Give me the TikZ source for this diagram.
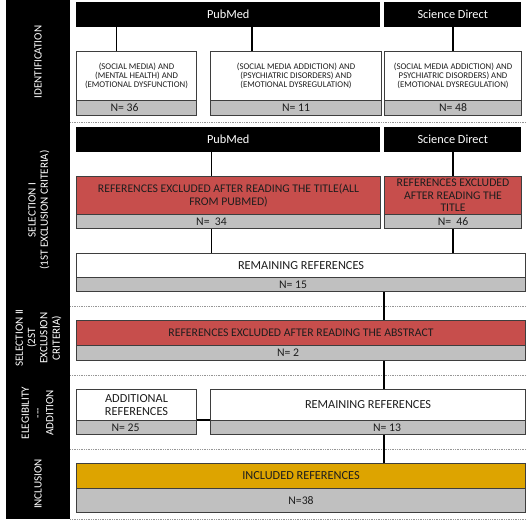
\documentclass[tikz,border=0pt]{standalone}
\usepackage{fontspec}
\setmainfont{Carlito}
\usepackage{xcolor}
\usepackage{tikz}
\usetikzlibrary{positioning}
\definecolor{exclred}{RGB}{199,78,76}
\definecolor{inclgold}{RGB}{221,164,0}
\definecolor{countgray}{RGB}{192,192,192}
\definecolor{frameline}{RGB}{62,62,62}
\definecolor{dotgray}{RGB}{150,150,150}
\definecolor{inktext}{RGB}{30,30,30}
\newlength\pxu
\setlength\pxu{0.3mm}

\tikzset{
  dbhead/.style={fill=black, text=white, anchor=north west, inner sep=0pt, font=\fontsize{10.5}{12}\selectfont},
  querybox/.style={draw=frameline, line width=0.9pt, fill=white, text=inktext, anchor=north west, inner sep=0pt, align=center, font=\fontsize{7.5}{7.6}\selectfont},
  exclbox/.style={querybox, fill=exclred, font=\fontsize{10}{10.6}\selectfont},
  remainbox/.style={querybox, font=\fontsize{10.5}{10.5}\selectfont},
  inclbox/.style={querybox, fill=inclgold, font=\fontsize{10.5}{11.5}\selectfont},
  countbar/.style={querybox, fill=countgray, font=\fontsize{10}{11}\selectfont},
  stagelabel/.style={text=white, rotate=90, align=center, font=\fontsize{9.5}{10.5}\selectfont},
  link/.style={line width=1.1pt},
  phasesep/.style={dotgray, densely dotted, line width=0.5pt}
}

\begin{document}
\begin{tikzpicture}[x=0.3mm, y=-0.3mm]
\useasboundingbox (0,0) rectangle (527,524);

% stage column
\fill[black] (6,0) rectangle (70,519);
\node[stagelabel] (stIdent) at (38,62) {IDENTIFICATION};
\node[stagelabel] (stSelA) at (39,210) {SELECTION I\\(1ST EXCLUSION CRITERIA)};
\node[stagelabel] (stSelB) at (38.5,338) {SELECTION II\\(2ST\\EXCLUSION\\CRITERIA)};
\node[stagelabel] (stElig) at (37.5,413) {ELEGIBILITY\\{-}{-}{-}\\ADDITION};
\node[stagelabel] (stIncl) at (38,484) {INCLUSION};

\foreach \sy in {122,306,375,449,519}
  \draw[phasesep] (70,\sy) -- (527,\sy);

% identification
\node[dbhead, minimum width=304*\pxu, minimum height=25*\pxu] (pubmedA) at (76,2) {PubMed};
\node[dbhead, minimum width=137*\pxu, minimum height=25*\pxu] (scidirA) at (384,2) {Science Direct};
\node[querybox, minimum width=120*\pxu, minimum height=49*\pxu] (queryA) at (76,51) {(SOCIAL MEDIA) AND\\(MENTAL HEALTH) AND\\(EMOTIONAL DYSFUNCTION)};
\node[countbar, minimum width=120*\pxu, minimum height=15*\pxu] (countA) at (76,100) {\hspace*{-24\pxu}N= 36};
\node[querybox, minimum width=171*\pxu, minimum height=49*\pxu] (queryB) at (210,51) {(SOCIAL MEDIA ADDICTION) AND\\(PSYCHIATRIC DISORDERS) AND\\(EMOTIONAL DYSREGULATION)};
\node[countbar, minimum width=171*\pxu, minimum height=15*\pxu] (countB) at (210,100) {N= 11};
\node[querybox, minimum width=137*\pxu, minimum height=49*\pxu] (queryC) at (384,51) {(SOCIAL MEDIA ADDICTION) AND\\PSYCHIATRIC DISORDERS) AND\\(EMOTIONAL DYSREGULATION)};
\node[countbar, minimum width=137*\pxu, minimum height=15*\pxu] (countC) at (384,100) {N= 48};

\draw[link] ([xshift=-20*\pxu]queryA.north) -- ([xshift=-20*\pxu]queryA.north |- pubmedA.south);
\draw[link] ([xshift=-44*\pxu]queryB.north) -- ([xshift=-44*\pxu]queryB.north |- pubmedA.south);
\draw[link] (queryC.north) -- (queryC.north |- scidirA.south);

% selection I
\node[dbhead, minimum width=304*\pxu, minimum height=25*\pxu] (pubmedB) at (76,127) {PubMed};
\node[dbhead, minimum width=137*\pxu, minimum height=25*\pxu] (scidirB) at (384,127) {Science Direct};
\node[exclbox, minimum width=304*\pxu, minimum height=38*\pxu] (titleA) at (76,176) {REFERENCES EXCLUDED AFTER READING THE TITLE(ALL\\FROM PUBMED)};
\node[countbar, minimum width=304*\pxu, minimum height=14*\pxu] (countD) at (76,214) {\hspace*{-34\pxu}N=\ \ 34};
\node[exclbox, minimum width=137*\pxu, minimum height=38*\pxu] (titleB) at (384,176) {REFERENCES EXCLUDED\\AFTER READING THE\\TITLE};
\node[countbar, minimum width=137*\pxu, minimum height=14*\pxu] (countE) at (384,214) {N=\ \ 46};
\node[remainbox, minimum width=449*\pxu, minimum height=24*\pxu] (remainA) at (76,253) {REMAINING REFERENCES};
\node[countbar, minimum width=449*\pxu, minimum height=14*\pxu] (countF) at (76,277) {\hspace*{-16\pxu}N= 15};

\draw[link] ([xshift=-17*\pxu]titleA.north) -- ([xshift=-17*\pxu]titleA.north |- pubmedB.south);
\draw[link] (titleB.north) -- (titleB.north |- scidirB.south);
\draw[link] ([xshift=-17*\pxu]countD.south) -- ([xshift=-17*\pxu]countD.south |- remainA.north);
\draw[link] (countE.south) -- (countE.south |- remainA.north);

% selection II
\node[exclbox, minimum width=449*\pxu, minimum height=25*\pxu] (abstract) at (76,320) {REFERENCES EXCLUDED AFTER READING THE ABSTRACT};
\node[countbar, minimum width=449*\pxu, minimum height=15*\pxu] (countG) at (76,345) {\hspace*{-26\pxu}N= 2};
\draw[link] (countF.south -| titleB.west) -- (abstract.north -| titleB.west);

% elegibility
\node[remainbox, minimum width=120*\pxu, minimum height=31*\pxu] (additional) at (76,389) {ADDITIONAL\\REFERENCES};
\node[countbar, minimum width=120*\pxu, minimum height=14*\pxu] (countH) at (76,420) {\hspace*{-22\pxu}N= 25};
\node[remainbox, minimum width=315*\pxu, minimum height=31*\pxu] (remainB) at (210,389) {REMAINING REFERENCES};
\node[countbar, minimum width=315*\pxu, minimum height=14*\pxu] (countI) at (210,420) {N= 13\hspace*{-38\pxu}};
\draw[link] (countG.south -| titleB.west) -- (remainB.north -| titleB.west);
\draw[link] (countH.north east) -- (countI.north west);

% inclusion
\node[inclbox, minimum width=449*\pxu, minimum height=25*\pxu] (included) at (76,463) {INCLUDED REFERENCES};
\node[countbar, minimum width=449*\pxu, minimum height=24*\pxu] (countJ) at (76,488) {N=38};
\draw[link] (countI.south -| titleB.west) -- (included.north -| titleB.west);
\end{tikzpicture}
\end{document}
